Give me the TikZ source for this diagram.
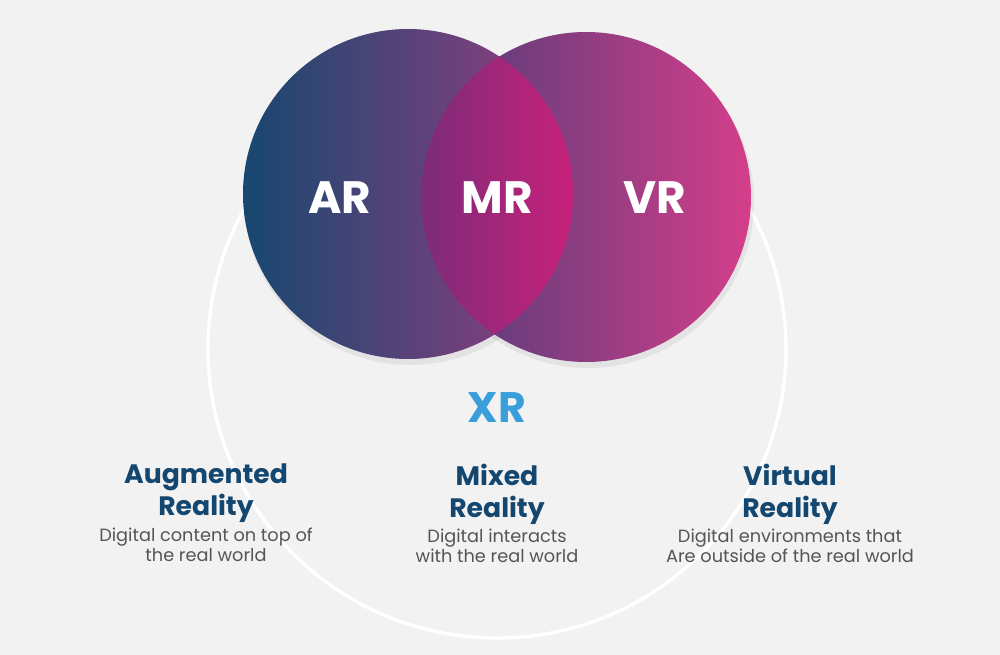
\documentclass[tikz,border=0pt]{standalone}
\usepackage{fontspec}
\setmainfont{Poppins}
\usetikzlibrary{positioning}
\definecolor{bgGray}{HTML}{F2F2F2}
\definecolor{arLeft}{HTML}{17476F}
\definecolor{arRight}{HTML}{9A3E82}
\definecolor{vrLeft}{HTML}{4A3C78}
\definecolor{vrRight}{HTML}{D53E8A}
\definecolor{mrLeft}{HTML}{7B2C79}
\definecolor{mrRight}{HTML}{C8217A}
\definecolor{xrBlue}{HTML}{3A9EDB}
\definecolor{titleBlue}{HTML}{14476F}
\definecolor{textGray}{HTML}{555555}

\begin{document}
\begin{tikzpicture}[x=0.75pt,y=0.75pt,yscale=-1,xscale=1,
  circlelabel/.style={text=white, inner sep=0pt, font=\fontsize{34}{40}\selectfont\bfseries},
  kindtitle/.style={text=titleBlue, inner sep=0pt, align=center, font=\fontsize{20}{24}\selectfont\bfseries},
  kindtext/.style={text=textGray, inner sep=0pt, align=center, font=\fontsize{13.3}{15}\selectfont}]

	% background
	\fill[bgGray] (0,0) rectangle (1000,655);
	\useasboundingbox (0,0) rectangle (1000,655);

	% XR ring
	\draw[white, line width=2.5pt] (497,349) circle (289);

	% soft shadow
	\fill[black, opacity=0.06] (410,199) circle (166);
	\fill[black, opacity=0.06] (588,202) circle (166);

	% VR circle
	\shade[left color=vrLeft, right color=vrRight] (586,197) circle (165);
	% AR circle
	\shade[left color=arLeft, right color=arRight] (408,194) circle (165);
	% MR overlap
	\begin{scope}
		\clip (408,194) circle (165);
		\clip (586,197) circle (165);
		\shade[left color=mrLeft, right color=mrRight] (421,29) rectangle (573,362);
	\end{scope}

	% circle labels
	\node[circlelabel] (ar) at (340,198) {AR};
	\node[circlelabel] (mr) at (497,198) {MR};
	\node[circlelabel] (vr) at (655,198) {VR};

	\node[text=xrBlue, inner sep=0pt, font=\fontsize{32}{36}\selectfont\bfseries] (xr) at (497,408) {XR};

	% Augmented
	\node[kindtitle, anchor=north] (augtitle) at (206,464) {Augmented\\Reality};
	\node[kindtext, below=3pt of augtitle] (augtext) {Digital content on top of\\the real world};

	% Mixed
	\node[kindtitle, anchor=north] (mixtitle) at (497,464) {Mixed\\Reality};
	\node[kindtext, below=3pt of mixtitle] (mixtext) {Digital interacts\\with the real world};

	% Virtual
	\node[kindtitle, anchor=north] (virttitle) at (790,464) {Virtual\\Reality};
	\node[kindtext, below=3pt of virttitle] (virttext) {Digital environments that\\Are outside of the real world};

\end{tikzpicture}
\end{document}
